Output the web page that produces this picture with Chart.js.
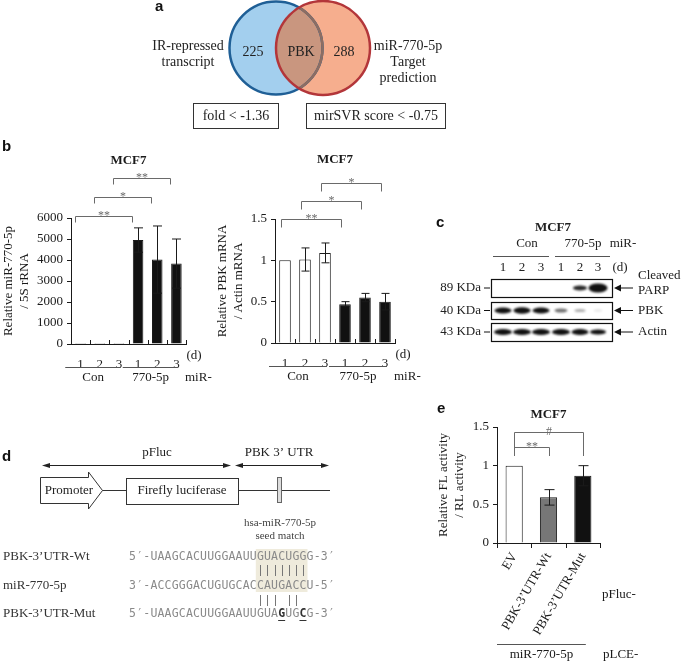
<!DOCTYPE html>
<html>
<head>
<meta charset="utf-8">
<script src="https://cdn.jsdelivr.net/npm/chart.js@4.4.1/dist/chart.umd.min.js"></script>
<style>
  body { margin: 0; background: #fff; }
  #page { position: relative; width: 685px; height: 662px; overflow: hidden; background: #fff; }
  #page canvas { position: absolute; }
</style>
</head>
<body>
<div id="page">
  <canvas id="figure" width="685" height="662" style="left:0;top:0"></canvas>
  <canvas id="mirChart" width="222" height="240" style="left:0;top:150px"></canvas>
  <canvas id="pbkChart" width="228" height="240" style="left:212px;top:150px"></canvas>
  <canvas id="lucChart" width="255" height="267" style="left:430px;top:395px"></canvas>
</div>
<script>
// ---- data ----
const days = ['1', '2', '3', '1', '2', '3'];
const groupNames = ['Con', '770-5p'];
const mirLevel = [1, 1, 1, 4950, 4020, 3830];   // relative miR-770-5p / 5S rRNA
const mirErr = [0, 0, 0, 580, 1600, 1170];
const pbkLevel = [1, 1.01, 1.09, 0.47, 0.55, 0.5]; // relative PBK mRNA / Actin mRNA
const pbkErr = [0, 0.14, 0.12, 0.03, 0.05, 0.1];
const lucLabels = ['EV', 'PBK-3\u2019UTR-Wt', 'PBK-3\u2019UTR-Mut'];
const lucActivity = [1, 0.59, 0.87];              // relative FL / RL activity
const lucErr = [0, 0.1, 0.13];
// significance: [from, to, mark]
const mirSig = [[0, 3, '**'], [1, 4, '*'], [2, 5, '**']];
const pbkSig = [[0, 3, '**'], [1, 4, '*'], [2, 5, '*']];
const lucSig = [[0, 1, '**'], [0, 2, '#']];

const SERIF = "'Liberation Serif', 'Times New Roman', serif";
const INK = '#1a1a1a';

// draws the bits Chart.js has no option for: error bars, brackets, titles, group lines
function annotate(cfg) {
  return {
    id: 'annotate',
    afterDatasetsDraw(chart) {
      const { ctx, chartArea: a, scales: { x, y } } = chart;
      const w = x.getPixelForValue(1) - x.getPixelForValue(0);
      ctx.save();
      ctx.strokeStyle = INK;
      ctx.lineWidth = 1;

      // error bars
      cfg.values.forEach((v, i) => {
        const e = cfg.errors[i];
        if (!e) return;
        const cx = Math.round(x.getPixelForValue(i)) + 0.5;
        const t = y.getPixelForValue(v + e), b = y.getPixelForValue(v - e);
        ctx.beginPath();
        ctx.moveTo(cx, t); ctx.lineTo(cx, b);
        ctx.moveTo(cx - cfg.capW / 2, t); ctx.lineTo(cx + cfg.capW / 2, t);
        ctx.moveTo(cx - cfg.capW / 2, b); ctx.lineTo(cx + cfg.capW / 2, b);
        ctx.stroke();
      });

      // category tick marks
      ctx.beginPath();
      for (let i = 0; i <= cfg.labels.length; i++) {
        const px = Math.round(a.left + i * w) + 0.5;
        ctx.moveTo(px, a.bottom + cfg.tickFrom);
        ctx.lineTo(px, a.bottom + cfg.tickTo);
      }
      ctx.stroke();

      // significance brackets
      ctx.strokeStyle = '#6a6a6a';
      ctx.fillStyle = '#6a6a6a';
      ctx.font = '12px ' + SERIF;
      ctx.textAlign = 'center';
      ctx.textBaseline = 'alphabetic';
      cfg.sig.forEach(([p, q, mark], lvl) => {
        const x1 = Math.round(x.getPixelForValue(p) + cfg.sigShift) + 0.5;
        const x2 = Math.round(x.getPixelForValue(q) + cfg.sigShift) + 0.5;
        const yb = Math.round(a.top + cfg.sigBase - lvl * cfg.sigStep) + 0.5;
        const legEnd = cfg.sigLegTo != null ? a.top + cfg.sigLegTo : yb + cfg.sigLeg;
        ctx.beginPath();
        ctx.moveTo(x1, legEnd); ctx.lineTo(x1, yb); ctx.lineTo(x2, yb); ctx.lineTo(x2, legEnd);
        ctx.stroke();
        ctx.fillText(mark, (x1 + x2) / 2, yb + 2);
      });

      // panel title
      ctx.fillStyle = INK;
      ctx.font = 'bold 13px ' + SERIF;
      ctx.textBaseline = 'middle';
      ctx.fillText('MCF7', (a.left + a.right) / 2, a.top - cfg.titleGap);

      ctx.font = '13px ' + SERIF;
      ctx.strokeStyle = '#555';
      if (cfg.groups) {
        ctx.fillText('(d)', a.right + 8, a.bottom + 12);
        groupNames.forEach((name, g) => {
          const s = x.getPixelForValue(g * 3) - 0.8 * w;
          const e = x.getPixelForValue(g * 3 + 2) + 0.1 * w;
          ctx.beginPath();
          ctx.moveTo(s, a.bottom + 23.5); ctx.lineTo(e, a.bottom + 23.5);
          ctx.stroke();
          ctx.fillText(name, (s + e) / 2, a.bottom + 34);
        });
        ctx.textAlign = 'left';
        ctx.fillText('miR-', a.right - 1, a.bottom + 34);
      } else {
        ctx.textAlign = 'left';
        ctx.fillText('pFluc-', a.right + 2, a.bottom + 52);
        const e = x.getPixelForValue(2) + 3;
        ctx.beginPath();
        ctx.moveTo(a.left, a.bottom + 101.5); ctx.lineTo(e, a.bottom + 101.5);
        ctx.stroke();
        ctx.textAlign = 'center';
        ctx.fillText('miR-770-5p', (a.left + e) / 2, a.bottom + 112);
        ctx.textAlign = 'left';
        ctx.fillText('pLCE-', a.right + 3, a.bottom + 112);
      }
      ctx.restore();
    },
  };
}

function barChart(id, cfg) {
  return new Chart(document.getElementById(id), {
    type: 'bar',
    data: {
      labels: cfg.labels,
      datasets: [{
        data: cfg.values,
        backgroundColor: cfg.colors,
        borderColor: INK,
        borderWidth: 1,
        barPercentage: cfg.barPct,
        categoryPercentage: 1,
      }],
    },
    options: {
      responsive: false,
      animation: false,
      layout: { padding: cfg.padding },
      plugins: { legend: { display: false }, tooltip: { enabled: false } },
      scales: {
        x: {
          grid: { display: false },
          border: { display: true, color: INK },
          ticks: {
            color: INK, font: { family: SERIF, size: 13 }, padding: cfg.xPad,
            minRotation: cfg.rot, maxRotation: cfg.rot, autoSkip: false,
          },
          afterFit: s => { s.height = cfg.xHeight; },
        },
        y: {
          min: 0,
          max: cfg.max,
          ticks: {
            stepSize: cfg.step, color: INK, padding: 4,
            font: { family: SERIF, size: 13 },
            callback: v => String(v),
          },
          grid: { drawOnChartArea: false, tickLength: 4, color: INK },
          border: { color: INK },
          title: {
            display: true, text: cfg.yTitle, color: INK,
            font: { family: SERIF, size: 13, lineHeight: 1.2 },
            padding: { top: cfg.titlePad, bottom: 0 },
          },
          afterFit: s => { s.width = cfg.yWidth; },
        },
      },
    },
    plugins: [annotate(cfg)],
  });
}

barChart('mirChart', {
  labels: days, values: mirLevel, errors: mirErr,
  colors: ['#fff', '#fff', '#fff', '#111', '#111', '#111'],
  barPct: 0.55, max: 6000, step: 1000,
  yTitle: ['Relative miR-770-5p', '/ 5S rRNA'], titlePad: 1,
  yWidth: 71, xHeight: 46, padding: { top: 68, right: 36, left: 0, bottom: 0 },
  xPad: 5, rot: 0, tickFrom: -4, tickTo: 0,
  sig: mirSig, sigBase: -2, sigStep: 19, sigLeg: 6, sigShift: -6, capW: 9,
  titleGap: 57, groups: true,
});

barChart('pbkChart', {
  labels: days, values: pbkLevel, errors: pbkErr,
  colors: ['#fff', '#fff', '#fff', '#111', '#111', '#111'],
  barPct: 0.58, max: 1.5, step: 0.5,
  yTitle: ['Relative PBK mRNA', '/ Actin mRNA'], titlePad: 3,
  yWidth: 63, xHeight: 47, padding: { top: 69, right: 45, left: 0, bottom: 0 },
  xPad: 5, rot: 0, tickFrom: -4, tickTo: 0,
  sig: pbkSig, sigBase: 0, sigStep: 18, sigLeg: 8, sigShift: -4, capW: 8,
  titleGap: 59, groups: true,
});

barChart('lucChart', {
  labels: lucLabels, values: lucActivity, errors: lucErr,
  colors: ['#fff', '#777', '#111'],
  barPct: 0.5, max: 1.5, step: 0.5,
  yTitle: ['Relative FL activity', '/ RL activity'], titlePad: 6,
  yWidth: 67, xHeight: 119, padding: { top: 32, right: 85, left: 0, bottom: 0 },
  xPad: -1, rot: 60, tickFrom: 0, tickTo: 5,
  sig: lucSig, sigBase: 20, sigStep: 15, sigLegTo: 29, sigShift: 0, capW: 10,
  titleGap: 12, groups: false,
});

// ---- non-chart panels: venn, blot, construct ----
const g = document.getElementById('figure').getContext('2d');
g.textAlign = 'center';
g.textBaseline = 'middle';

function letter(t, x, y) {
  g.fillStyle = '#111';
  g.font = "bold 15px 'Liberation Sans', Arial, sans-serif";
  g.textAlign = 'left';
  g.fillText(t, x, y);
  g.textAlign = 'center';
}
letter('a', 155, 7);
letter('b', 2, 147);
letter('c', 436, 223);
letter('d', 2, 457);
letter('e', 437, 409);

// venn
function circle(cx, cy, r) { g.beginPath(); g.arc(cx, cy, r, 0, Math.PI * 2); }
const blue = [276, 48, 46.5], red = [323, 48, 47];
circle(...blue); g.fillStyle = '#a3cfee'; g.fill();
circle(...red); g.fillStyle = '#f6ae8e'; g.fill();
g.save(); circle(...blue); g.clip(); circle(...red); g.fillStyle = '#c9967f'; g.fill(); g.restore();
g.lineWidth = 2.5;
circle(...blue); g.strokeStyle = '#1f5f96'; g.stroke();
g.save(); circle(red[0], red[1], red[2] - 1); g.clip(); circle(...blue); g.strokeStyle = '#8d6d62'; g.stroke(); g.restore();
circle(...red); g.strokeStyle = '#b3363a'; g.stroke();

g.fillStyle = '#222';
g.font = '14px ' + SERIF;
g.fillText('225', 253, 52);
g.fillText('PBK', 301, 52);
g.fillText('288', 344, 52);
g.fillText('IR-repressed', 188, 46);
g.fillText('transcript', 188, 62);
g.fillText('miR-770-5p', 408, 46);
g.fillText('Target', 408, 62);
g.fillText('prediction', 408, 78);
g.lineWidth = 1;
g.strokeStyle = '#333';
g.strokeRect(193.5, 103.5, 85, 25);
g.strokeRect(306.5, 103.5, 139, 25);
g.fillText('fold < -1.36', 236, 116);
g.fillText('mirSVR score < -0.75', 376, 116);

// western blot
const lanes = [503, 522, 541, 561, 580, 598];
g.font = 'bold 13px ' + SERIF;
g.fillText('MCF7', 553, 228);
g.font = '13px ' + SERIF;
g.fillText('Con', 527, 244);
g.fillText('770-5p', 583, 244);
g.fillText('miR-', 623, 244);
g.strokeStyle = '#555';
g.beginPath();
g.moveTo(493, 256.5); g.lineTo(549, 256.5);
g.moveTo(555, 256.5); g.lineTo(610, 256.5);
g.stroke();
['1', '2', '3', '1', '2', '3'].forEach((t, i) => g.fillText(t, lanes[i], 268));
g.fillText('(d)', 620, 268);

const rows = [
  { kda: '89 KDa', name: 'PARP', top: 279, h: 18, bands: [0, 0, 0, 0, [14, 5, 0.9], [19, 9, 1]] },
  { kda: '40 KDa', name: 'PBK', top: 302, h: 17, bands: [[17, 6, 1], [17, 6.5, 1], [17, 6, 1], [13, 4, 0.6], [11, 3, 0.35], [8, 2, 0.12]] },
  { kda: '43 KDa', name: 'Actin', top: 323, h: 18, bands: [[18, 6, 1], [18, 6, 1], [18, 6, 1], [18, 6, 1], [17, 6, 1], [16, 5, 1]] },
];
rows.forEach(r => {
  const cy = r.top + r.h / 2;
  g.save();
  g.filter = 'blur(0.8px)';
  r.bands.forEach((b, i) => {
    if (!b) return;
    g.fillStyle = `rgba(15,15,15,${b[2]})`;
    g.beginPath();
    g.ellipse(lanes[i], cy, b[0] / 2, b[1] / 2, 0, 0, Math.PI * 2);
    g.fill();
  });
  g.restore();
  g.strokeStyle = '#111';
  g.lineWidth = 1.2;
  g.strokeRect(491.5, r.top + 0.5, 121, r.h);
  g.lineWidth = 1;
  g.beginPath();
  g.moveTo(484, cy); g.lineTo(490, cy);
  // arrow pointing at the box
  g.moveTo(633, cy); g.lineTo(616, cy);
  g.stroke();
  g.fillStyle = '#111';
  g.beginPath();
  g.moveTo(614, cy); g.lineTo(621, cy - 3.5); g.lineTo(621, cy + 3.5); g.closePath(); g.fill();
  g.fillStyle = '#222';
  g.textAlign = 'right';
  g.fillText(r.kda, 481, cy);
  g.textAlign = 'left';
  g.fillText(r.name, 638, r.name === 'PARP' ? 291 : cy);
  g.textAlign = 'center';
});
g.textAlign = 'left';
g.fillText('Cleaved', 638, 276);
g.textAlign = 'center';

// luciferase construct
function dblArrow(x1, x2, y) {
  g.strokeStyle = '#222';
  g.fillStyle = '#222';
  g.beginPath(); g.moveTo(x1 + 3, y); g.lineTo(x2 - 3, y); g.stroke();
  g.beginPath(); g.moveTo(x1, y); g.lineTo(x1 + 8, y - 2.5); g.lineTo(x1 + 8, y + 2.5); g.closePath(); g.fill();
  g.beginPath(); g.moveTo(x2, y); g.lineTo(x2 - 8, y - 2.5); g.lineTo(x2 - 8, y + 2.5); g.closePath(); g.fill();
}
g.font = '13px ' + SERIF;
g.fillStyle = '#222';
g.fillText('pFluc', 157, 453);
g.fillText('PBK 3\u2019 UTR', 279, 453);
dblArrow(42, 231, 465.5);
dblArrow(235, 329, 465.5);

g.strokeStyle = '#333';
g.lineWidth = 1;
g.beginPath();
g.moveTo(40.5, 477.5); g.lineTo(88.5, 477.5); g.lineTo(88.5, 472); g.lineTo(102.5, 490.5);
g.lineTo(88.5, 509); g.lineTo(88.5, 503.5); g.lineTo(40.5, 503.5); g.closePath();
g.stroke();
g.beginPath();
g.moveTo(102.5, 490.5); g.lineTo(126, 490.5);
g.moveTo(238, 490.5); g.lineTo(330, 490.5);
g.stroke();
g.strokeRect(126.5, 478.5, 112, 26);
g.fillStyle = '#ddd';
g.fillRect(277.5, 477.5, 4, 25);
g.strokeStyle = '#666';
g.strokeRect(277.5, 477.5, 4, 25);
g.fillStyle = '#222';
g.fillText('Promoter', 69, 491);
g.fillText('Firefly luciferase', 182, 491);

g.font = '11px ' + SERIF;
g.fillStyle = '#444';
g.fillText('hsa-miR-770-5p', 280, 523);
g.fillText('seed match', 280, 536);

const seqRows = [
  ['PBK-3\u2019UTR-Wt', '5\u2032-UAAGCACUUGGAAUUGUACUGGG-3\u2032', 557, []],
  ['miR-770-5p', '3\u2032-ACCGGGACUGUGCACCAUGACCU-5\u2032', 586, []],
  ['PBK-3\u2019UTR-Mut', '5\u2032-UAAGCACUUGGAAUUGUAGUGCG-3\u2032', 614, [21, 24]],
];
const seqX = 129, step = 7.1;
const colX = i => seqX + step * i + step / 2;
g.fillStyle = '#efebdc';
g.fillRect(colX(18) - step / 2 - 1, 549, step * 7 + 2, 43);
g.strokeStyle = '#777';
g.beginPath();
[18, 19, 20, 21, 22, 23, 24].forEach(i => { g.moveTo(Math.round(colX(i)) + 0.5, 565); g.lineTo(Math.round(colX(i)) + 0.5, 576); });
[18, 19, 20, 22, 23].forEach(i => { g.moveTo(Math.round(colX(i)) + 0.5, 595); g.lineTo(Math.round(colX(i)) + 0.5, 606); });
g.stroke();
seqRows.forEach(([name, seq, y, mut]) => {
  g.textAlign = 'left';
  g.fillStyle = '#333';
  g.font = '13px ' + SERIF;
  g.fillText(name, 3, y);
  g.textAlign = 'center';
  [...seq].forEach((ch, i) => {
    const bold = mut.includes(i);
    g.font = (bold ? 'bold ' : '') + "11.5px 'DejaVu Sans Mono', monospace";
    g.fillStyle = bold ? '#333' : '#8a8a8a';
    g.fillText(ch, colX(i), y);
    if (bold) g.fillRect(colX(i) - 3.5, y + 6, 7, 1);
  });
});
</script>
</body>
</html>
